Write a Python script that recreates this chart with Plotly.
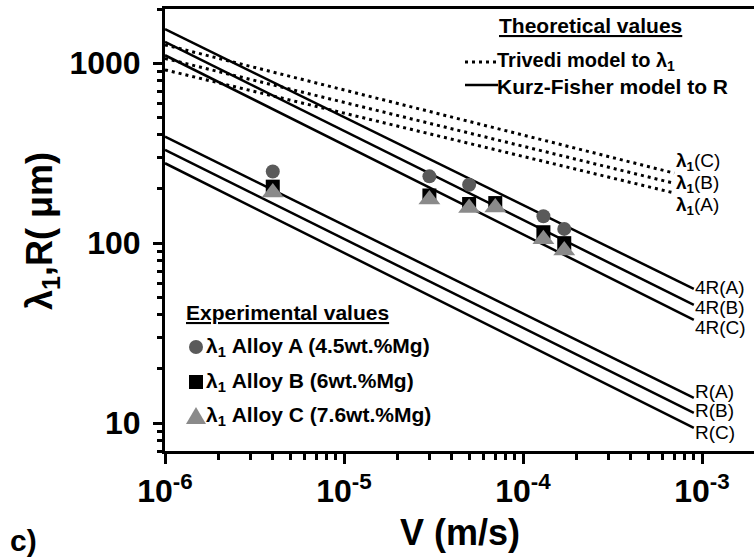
import numpy as np
import plotly.graph_objects as go

# ---------------- data ----------------
# Experimental primary dendrite arm spacing (um) vs growth rate V (m/s)
V_A = [4e-6, 3e-5, 5e-5, 1.3e-4, 1.7e-4]
lam_A = [250, 235, 211, 141, 120]
V_B = [4e-6, 3e-5, 5e-5, 7e-5, 1.3e-4, 1.7e-4]
lam_B = [206, 184, 165, 167, 115, 100]
V_C = [4e-6, 3e-5, 5e-5, 7e-5, 1.3e-4, 1.7e-4]
lam_C = [191, 175, 157, 158, 105, 91]

# Theoretical lines (end values)
V_trivedi = [1e-6, 7e-4]
trivedi_A = [918, 190]
trivedi_B = [1062, 215]
trivedi_C = [1264, 245]

V_kf = [1e-6, 9e-4]
R_A = [391, 13.8]
R_B = [330, 11.4]
R_C = [278, 9.4]
R4_A = [1545, 55.7]
R4_B = [1313, 45.4]
R4_C = [1107, 37.5]

x_tickvals = [1e-6, 1e-5, 1e-4, 1e-3]
x_ticktext = ["10<sup>-6</sup>", "10<sup>-5</sup>", "10<sup>-4</sup>", "10<sup>-3</sup>"]
y_tickvals = [10, 100, 1000]
y_ticktext = ["10", "100", "1000"]

# ---------------- layout geometry ----------------
W, H = 754, 559
ML, MR, MT, MB = 165, 0, 9, 108
PW, PH = W - ML - MR, H - MT - MB
FONT = "Liberation Sans, Arial, sans-serif"


def px(xp):
    return (xp - ML) / PW


def py(yp):
    return (H - MB - yp) / PH


fig = go.Figure()

DOT = "3px,4px"
for vals in (trivedi_A, trivedi_B, trivedi_C):
    fig.add_trace(go.Scatter(x=V_trivedi, y=vals, mode="lines",
                             line=dict(color="black", width=3, dash=DOT),
                             showlegend=False, hoverinfo="skip"))
for vals in (R_A, R_B, R_C, R4_A, R4_B, R4_C):
    fig.add_trace(go.Scatter(x=V_kf, y=vals, mode="lines",
                             line=dict(color="black", width=2.5),
                             showlegend=False, hoverinfo="skip"))

fig.add_trace(go.Scatter(x=V_A, y=lam_A, mode="markers", showlegend=False,
                         marker=dict(symbol="circle", size=14, color="#5a5a5a")))
fig.add_trace(go.Scatter(x=V_B, y=lam_B, mode="markers", showlegend=False,
                         marker=dict(symbol="square", size=14, color="black")))
fig.add_trace(go.Scatter(x=V_C, y=lam_C, mode="markers", showlegend=False,
                         marker=dict(symbol="triangle-up", size=19, color="#8a8a8a")))

# ---------------- line labels ----------------
ann = []
lab_font = dict(family=FONT, size=19, color="black")
for vals, txt, ys in ((trivedi_C, "<b>λ<sub>1</sub></b>(C)", 11),
                      (trivedi_B, "<b>λ<sub>1</sub></b>(B)", -1),
                      (trivedi_A, "<b>λ<sub>1</sub></b>(A)", -13)):
    ann.append(dict(x=np.log10(V_trivedi[-1]), y=np.log10(vals[-1]), xref="x", yref="y",
                    text=txt, showarrow=False, xanchor="left", yanchor="middle",
                    xshift=0, yshift=ys, font=lab_font))
for vals, txt, ys in ((R4_A, "4R(A)", 1), (R4_B, "4R(B)", -3), (R4_C, "4R(C)", -8),
                      (R_A, "R(A)", 6), (R_B, "R(B)", 2), (R_C, "R(C)", -5)):
    ann.append(dict(x=np.log10(V_kf[-1]), y=np.log10(vals[-1]), xref="x", yref="y",
                    text=txt, showarrow=False, xanchor="left", yanchor="middle",
                    xshift=-1, yshift=ys, font=lab_font))

# ---------------- theoretical legend ----------------
leg_font = dict(family=FONT, size=21, color="black")
ann.append(dict(x=px(590), y=py(26), xref="paper", yref="paper",
                text="<b><u>Theoretical values</u></b>", showarrow=False,
                xanchor="center", yanchor="middle", font=leg_font))
ann.append(dict(x=px(495), y=py(61), xref="paper", yref="paper",
                text="<b>Trivedi model to λ<sub>1</sub></b>", showarrow=False,
                xanchor="left", yanchor="middle", font=dict(family=FONT, size=20, color="black")))
ann.append(dict(x=px(495), y=py(86), xref="paper", yref="paper",
                text="<b>Kurz-Fisher model to R</b>", showarrow=False,
                xanchor="left", yanchor="middle", font=dict(family=FONT, size=21, color="black")))

shapes = [
    dict(type="line", xref="paper", yref="paper", x0=px(465), x1=px(496), y0=py(62), y1=py(62),
         line=dict(color="black", width=3, dash=DOT)),
    dict(type="line", xref="paper", yref="paper", x0=px(465), x1=px(498), y0=py(85), y1=py(85),
         line=dict(color="black", width=2.5)),
]

# ---------------- experimental legend ----------------
ann.append(dict(x=px(184), y=py(312), xref="paper", yref="paper",
                text="<b><u>Experimental values</u></b>", showarrow=False,
                xanchor="left", yanchor="middle", font=leg_font))
items = [("<b>λ<sub>1</sub> Alloy A (4.5wt.%Mg)</b>", 347),
         ("<b>λ<sub>1</sub> Alloy B (6wt.%Mg)</b>", 382),
         ("<b>λ<sub>1</sub> Alloy C (7.6wt.%Mg)</b>", 416)]
for txt, yc in items:
    ann.append(dict(x=px(204), y=py(yc), xref="paper", yref="paper", text=txt,
                    showarrow=False, xanchor="left", yanchor="middle", font=leg_font))

cx = 196
shapes.append(dict(type="circle", xref="paper", yref="paper",
                   x0=px(cx - 7), x1=px(cx + 7), y0=py(347 + 7), y1=py(347 - 7),
                   fillcolor="#5a5a5a", line=dict(width=0)))
shapes.append(dict(type="rect", xref="paper", yref="paper",
                   x0=px(cx - 7), x1=px(cx + 7), y0=py(382 + 7), y1=py(382 - 7),
                   fillcolor="black", line=dict(width=0)))
tri = "M {:.5f},{:.5f} L {:.5f},{:.5f} L {:.5f},{:.5f} Z".format(
    px(cx - 10), py(424), px(cx + 10), py(424), px(cx), py(407))
shapes.append(dict(type="path", xref="paper", yref="paper", path=tri,
                   fillcolor="#8a8a8a", line=dict(width=0)))

# ---------------- axis titles and panel label ----------------
title_font = dict(family=FONT, size=36, color="black")
ann.append(dict(x=px(460), y=py(532), xref="paper", yref="paper", text="<b>V (m/s)</b>",
                showarrow=False, xanchor="center", yanchor="middle", font=title_font))
ann.append(dict(x=px(42), y=py(231), xref="paper", yref="paper",
                text="<b>λ<sub>1</sub>,R( μm)</b>", textangle=-90,
                showarrow=False, xanchor="center", yanchor="middle", font=title_font))
ann.append(dict(x=px(8), y=py(540), xref="paper", yref="paper", text="<b>c)</b>",
                showarrow=False, xanchor="left", yanchor="middle",
                font=dict(family=FONT, size=30, color="black")))

x_minor = [k * 10.0 ** e for e in range(-6, -2) for k in range(2, 10)]
y_minor = [k * 10.0 ** e for e in range(0, 4) for k in range(2, 10)]

tick_font = dict(family=FONT, size=32, color="black", weight="bold")
fig.update_layout(
    width=W, height=H,
    margin=dict(l=ML, r=MR, t=MT, b=MB, pad=0),
    paper_bgcolor="white", plot_bgcolor="white",
    showlegend=False,
    annotations=ann, shapes=shapes,
    xaxis=dict(type="log", range=[-6, np.log10(1e-6) + PW / 179.0],
               tickmode="array", tickvals=x_tickvals, ticktext=x_ticktext,
               ticks="outside", ticklen=10, tickwidth=2.5, tickcolor="black",
               showline=True, linecolor="black", linewidth=3, mirror=True,
               showgrid=False, zeroline=False, tickfont=tick_font, automargin=False,
               minor=dict(tickmode="array", tickvals=x_minor, ticks="outside",
                          ticklen=6, tickwidth=2.5, tickcolor="black", showgrid=False)),
    yaxis=dict(type="log", range=[np.log10(7), np.log10(2000)],
               tickmode="array", tickvals=y_tickvals, ticktext=y_ticktext,
               ticks="outside", ticklen=9, tickwidth=2.5, tickcolor="black",
               showline=True, linecolor="black", linewidth=3, mirror=False,
               showgrid=False, zeroline=False, tickfont=tick_font, automargin=False,
               ticklabelstandoff=6,
               minor=dict(tickmode="array", tickvals=y_minor, ticks="outside",
                          ticklen=5, tickwidth=2.5, tickcolor="black", showgrid=False)),
)

fig.write_html(
    "out.html",
    config={"displayModeBar": False},
    post_script="document.body.style.margin='0px';"
                "document.body.style.overflow='hidden';"
                "document.documentElement.style.overflow='hidden';",
)
